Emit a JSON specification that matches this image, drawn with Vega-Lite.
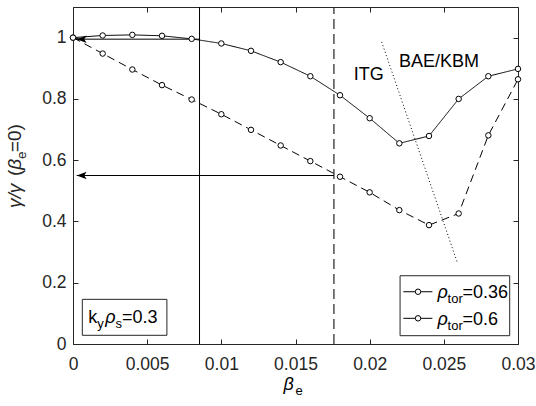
{
  "$schema": "https://vega.github.io/schema/vega-lite/v6.json",
  "width": 445,
  "height": 337,
  "autosize": {"type": "none"},
  "padding": {"left": 73, "top": 7, "right": 18, "bottom": 62},
  "background": "white",
  "datasets": {
    "series": [
      {"rho": "0.36", "b": 0.000, "g": 1.000},
      {"rho": "0.36", "b": 0.002, "g": 0.948},
      {"rho": "0.36", "b": 0.004, "g": 0.896},
      {"rho": "0.36", "b": 0.006, "g": 0.845},
      {"rho": "0.36", "b": 0.008, "g": 0.798},
      {"rho": "0.36", "b": 0.010, "g": 0.750},
      {"rho": "0.36", "b": 0.012, "g": 0.699},
      {"rho": "0.36", "b": 0.014, "g": 0.648},
      {"rho": "0.36", "b": 0.016, "g": 0.597},
      {"rho": "0.36", "b": 0.018, "g": 0.546},
      {"rho": "0.36", "b": 0.020, "g": 0.495},
      {"rho": "0.36", "b": 0.022, "g": 0.437},
      {"rho": "0.36", "b": 0.024, "g": 0.388},
      {"rho": "0.36", "b": 0.026, "g": 0.426},
      {"rho": "0.36", "b": 0.028, "g": 0.681},
      {"rho": "0.36", "b": 0.030, "g": 0.864},
      {"rho": "0.6", "b": 0.000, "g": 1.000},
      {"rho": "0.6", "b": 0.002, "g": 1.007},
      {"rho": "0.6", "b": 0.004, "g": 1.009},
      {"rho": "0.6", "b": 0.006, "g": 1.006},
      {"rho": "0.6", "b": 0.008, "g": 0.996},
      {"rho": "0.6", "b": 0.010, "g": 0.981},
      {"rho": "0.6", "b": 0.012, "g": 0.957},
      {"rho": "0.6", "b": 0.014, "g": 0.920},
      {"rho": "0.6", "b": 0.016, "g": 0.874},
      {"rho": "0.6", "b": 0.018, "g": 0.812},
      {"rho": "0.6", "b": 0.020, "g": 0.737},
      {"rho": "0.6", "b": 0.022, "g": 0.655},
      {"rho": "0.6", "b": 0.024, "g": 0.679},
      {"rho": "0.6", "b": 0.026, "g": 0.800},
      {"rho": "0.6", "b": 0.028, "g": 0.874},
      {"rho": "0.6", "b": 0.030, "g": 0.898}
    ],
    "vsolid": [{"b": 0.00853, "g": 0, "g2": 1.1}],
    "vdash": [{"b": 0.01759, "g": 0, "g2": 1.1}],
    "arrows": [
      {"b": 0.00025, "b2": 0.00853, "g": 0.995},
      {"b": 0.00025, "b2": 0.01759, "g": 0.55}
    ],
    "divider": [{"b": 0.02081, "g": 0.986, "b2": 0.02593, "g2": 0.263}],
    "boxes": [
      {"b": 0.000628, "b2": 0.00633, "g": 0.1458, "g2": 0.0284},
      {"b": 0.02205, "b2": 0.02944, "g": 0.2228, "g2": 0.0271}
    ],
    "keyLines": [
      {"b": 0.02227, "b2": 0.02423, "g": 0.1706},
      {"b": 0.02227, "b2": 0.02423, "g": 0.0838}
    ],
    "keyMarks": [
      {"b": 0.02326, "g": 0.1706},
      {"b": 0.02326, "g": 0.0838}
    ],
    "plain": [
      {"b": 0.01892, "g": 0.8613, "t": "ITG"},
      {"b": 0.02198, "g": 0.9047, "t": "BAE/KBM"},
      {"b": 0.026264, "g": 0.1501, "t": "=0.36"},
      {"b": 0.026264, "g": 0.0626, "t": "=0.6"},
      {"b": 0.001034, "g": 0.0685, "t": "k"},
      {"b": 0.00331, "g": 0.0685, "t": "=0.3"}
    ],
    "greek": [
      {"b": 0.024574, "g": 0.1501, "t": "ρ"},
      {"b": 0.024574, "g": 0.0626, "t": "ρ"},
      {"b": 0.00218, "g": 0.0685, "t": "ρ"},
      {"b": 0.01419, "g": -0.1501, "t": "β"}
    ],
    "subs": [
      {"b": 0.02525, "g": 0.1501, "t": "tor"},
      {"b": 0.02525, "g": 0.0626, "t": "tor"},
      {"b": 0.001642, "g": 0.0685, "t": "y"},
      {"b": 0.00286, "g": 0.0685, "t": "s"},
      {"b": 0.0150, "g": -0.1501, "t": "e"}
    ],
    "yTitlePlain": [
      {"b": -0.0035, "g": 0.5480, "t": "("},
      {"b": -0.0035, "g": 0.6260, "t": "=0)"}
    ],
    "yTitleGreek": [
      {"b": -0.0035, "g": 0.4437, "t": "γ/γ"},
      {"b": -0.0035, "g": 0.5690, "t": "β"}
    ],
    "yTitleSub": [
      {"b": -0.0035, "g": 0.6040, "t": "e"}
    ]
  },
  "layer": [
    {
      "encoding": {
        "x": {
          "field": "b", "type": "quantitative",
          "scale": {"domain": [0, 0.03], "nice": false, "zero": false},
          "axis": {"orient": "bottom", "values": [0, 0.005, 0.01, 0.015, 0.02, 0.025, 0.03], "format": "~g", "title": null, "labelPadding": 16.4}
        },
        "y": {
          "field": "g", "type": "quantitative",
          "scale": {"domain": [0, 1.1], "nice": false, "zero": false},
          "axis": {"orient": "left", "values": [0, 0.2, 0.4, 0.6, 0.8, 1], "format": "~g", "title": null, "labelPadding": 12}
        }
      },
      "layer": [
        {
          "data": {"name": "series"},
          "mark": {"type": "line", "color": "black", "strokeWidth": 1},
          "encoding": {
            "strokeDash": {"field": "rho", "type": "nominal", "scale": {"domain": ["0.36", "0.6"], "range": [[8, 5], [1, 0]]}, "legend": null}
          }
        },
        {
          "data": {"name": "vsolid"},
          "mark": {"type": "rule", "color": "black", "strokeWidth": 1},
          "encoding": {"y2": {"field": "g2"}}
        },
        {
          "data": {"name": "vdash"},
          "mark": {"type": "rule", "color": "#333333", "strokeWidth": 1.3, "strokeDash": [10, 5]},
          "encoding": {"y2": {"field": "g2"}}
        },
        {
          "data": {"name": "arrows"},
          "mark": {"type": "rule", "color": "black", "strokeWidth": 1},
          "encoding": {"x2": {"field": "b2"}}
        },
        {
          "data": {"name": "arrows"},
          "mark": {"type": "point", "shape": "M0,0L2,-0.75L1.5,0L2,0.75Z", "size": 100, "filled": true, "color": "black", "opacity": 1}
        },
        {
          "data": {"name": "divider"},
          "mark": {"type": "rule", "color": "black", "strokeWidth": 1, "strokeDash": [1, 2.5]},
          "encoding": {"x2": {"field": "b2"}, "y2": {"field": "g2"}}
        },
        {
          "data": {"name": "boxes"},
          "mark": {"type": "rect", "fill": "white", "stroke": "#262626", "strokeWidth": 1},
          "encoding": {"x2": {"field": "b2"}, "y2": {"field": "g2"}}
        },
        {
          "data": {"name": "keyLines"},
          "mark": {"type": "rule", "color": "black", "strokeWidth": 1},
          "encoding": {"x2": {"field": "b2"}}
        },
        {
          "data": {"name": "keyMarks"},
          "mark": {"type": "point", "shape": "circle", "size": 30, "fill": "white", "stroke": "black", "strokeWidth": 1, "opacity": 1}
        },
        {
          "data": {"name": "plain"},
          "mark": {"type": "text", "align": "left", "baseline": "alphabetic", "font": "Liberation Sans", "fontSize": 18, "color": "black"},
          "encoding": {"text": {"field": "t"}}
        },
        {
          "data": {"name": "greek"},
          "mark": {"type": "text", "align": "left", "baseline": "alphabetic", "font": "Liberation Sans", "fontStyle": "italic", "fontSize": 18, "color": "black"},
          "encoding": {"text": {"field": "t"}}
        },
        {
          "data": {"name": "subs"},
          "mark": {"type": "text", "align": "left", "baseline": "alphabetic", "font": "Liberation Sans", "fontSize": 13, "dy": 5, "color": "black"},
          "encoding": {"text": {"field": "t"}}
        },
        {
          "data": {"name": "yTitlePlain"},
          "mark": {"type": "text", "angle": 270, "align": "left", "baseline": "alphabetic", "font": "Liberation Sans", "fontSize": 19, "color": "#262626"},
          "encoding": {"text": {"field": "t"}}
        },
        {
          "data": {"name": "yTitleGreek"},
          "mark": {"type": "text", "angle": 270, "align": "left", "baseline": "alphabetic", "font": "Liberation Sans", "fontStyle": "italic", "fontSize": 19, "color": "#262626"},
          "encoding": {"text": {"field": "t"}}
        },
        {
          "data": {"name": "yTitleSub"},
          "mark": {"type": "text", "angle": 270, "align": "left", "baseline": "alphabetic", "font": "Liberation Sans", "fontSize": 13.5, "dy": 5, "color": "#262626"},
          "encoding": {"text": {"field": "t"}}
        }
      ]
    },
    {
      "data": {"name": "series"},
      "mark": {"type": "point", "shape": "circle", "size": 30, "fill": "white", "stroke": "black", "strokeWidth": 1, "opacity": 1},
      "encoding": {
        "x": {
          "field": "b", "type": "quantitative",
          "scale": {"domain": [0, 0.03], "nice": false, "zero": false},
          "axis": {"orient": "top", "values": [0, 0.005, 0.01, 0.015, 0.02, 0.025, 0.03], "labels": false, "domain": false, "title": null}
        },
        "y": {
          "field": "g", "type": "quantitative",
          "scale": {"domain": [0, 1.1], "nice": false, "zero": false},
          "axis": {"orient": "right", "values": [0, 0.2, 0.4, 0.6, 0.8, 1], "labels": false, "domain": false, "title": null}
        }
      }
    }
  ],
  "resolve": {"axis": {"x": "independent", "y": "independent"}},
  "config": {
    "view": {"stroke": "#262626", "strokeWidth": 1},
    "axis": {
      "grid": false,
      "domainColor": "#262626",
      "domainWidth": 1,
      "tickColor": "#262626",
      "tickWidth": 1,
      "tickSize": -5,
      "labelFont": "Liberation Sans",
      "labelFontSize": 17.5,
      "labelColor": "#262626",
      "labelFlush": false,
      "labelOverlap": false,
      "labelBound": false
    }
  }
}
